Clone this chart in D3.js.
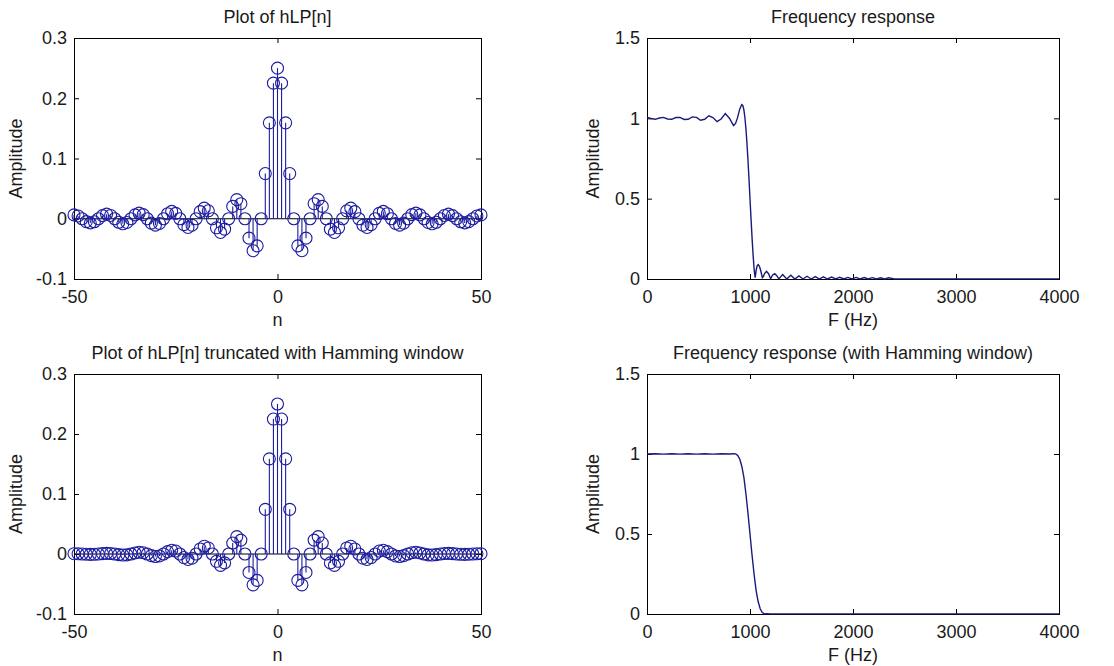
<!DOCTYPE html>
<html>
<head>
<meta charset="utf-8">
<script src="https://cdn.jsdelivr.net/npm/d3@7"></script>
<style>
  body { margin: 0; background: #fff; }
  text { font-family: "Liberation Sans", Arial, sans-serif; fill: #1a1a1a; }
</style>
</head>
<body>
<div id="graphic"></div>
<script>
// sample index n = -50 ... 50
const nValues = d3.range(-50, 51);

// ideal low pass impulse response, truncated (rectangular)
const hLP = [
  0.0064, 0.0046, 0, -0.0048, -0.0069, -0.0050, 0, 0.0052, 0.0076, 0.0055,
  0, -0.0058, -0.0084, -0.0061, 0, 0.0064, 0.0094, 0.0068, 0, -0.0073,
  -0.0106, -0.0078, 0, 0.0083, 0.0122, 0.0090, 0, -0.0098, -0.0145, -0.0107,
  0, 0.0118, 0.0177, 0.0132, 0, -0.0150, -0.0227, -0.0173, 0, 0.0205,
  0.0318, 0.0250, 0, -0.0322, -0.0531, -0.0450, 0, 0.0750, 0.1592, 0.2251,
  0.25,
  0.2251, 0.1592, 0.0750, 0, -0.0450, -0.0531, -0.0322, 0, 0.0250, 0.0318,
  0.0205, 0, -0.0173, -0.0227, -0.0150, 0, 0.0132, 0.0177, 0.0118, 0,
  -0.0107, -0.0145, -0.0098, 0, 0.0090, 0.0122, 0.0083, 0, -0.0078, -0.0106,
  -0.0073, 0, 0.0068, 0.0094, 0.0064, 0, -0.0061, -0.0084, -0.0058, 0,
  0.0055, 0.0076, 0.0052, 0, -0.0050, -0.0069, -0.0048, 0, 0.0046, 0.0064
];

// same response with the Hamming window applied
const hLPHamming = [
  0.0005, 0.0004, 0, -0.0004, -0.0007, -0.0005, 0, 0.0006, 0.0010, 0.0008,
  0, -0.0011, -0.0017, -0.0014, 0, 0.0017, 0.0028, 0.0022, 0, -0.0027,
  -0.0042, -0.0033, 0, 0.0040, 0.0062, 0.0049, 0, -0.0059, -0.0091, -0.0070,
  0, 0.0084, 0.0130, 0.0101, 0, -0.0122, -0.0189, -0.0148, 0, 0.0183,
  0.0290, 0.0232, 0, -0.0308, -0.0514, -0.0440, 0, 0.0744, 0.1586, 0.2249,
  0.25,
  0.2249, 0.1586, 0.0744, 0, -0.0440, -0.0514, -0.0308, 0, 0.0232, 0.0290,
  0.0183, 0, -0.0148, -0.0189, -0.0122, 0, 0.0101, 0.0130, 0.0084, 0,
  -0.0070, -0.0091, -0.0059, 0, 0.0049, 0.0062, 0.0040, 0, -0.0033, -0.0042,
  -0.0027, 0, 0.0022, 0.0028, 0.0017, 0, -0.0014, -0.0017, -0.0011, 0,
  0.0008, 0.0010, 0.0006, 0, -0.0005, -0.0007, -0.0004, 0, 0.0004, 0.0005
];

// |H(F)| for the rectangular truncation
const freqRect = [
  0, 40, 80, 120, 160, 200, 240, 280, 320, 360, 400, 440, 480, 520, 560, 600,
  640, 680, 720, 760, 800, 840, 860, 880, 900, 920,
  930, 940, 950, 960, 970, 980, 990, 1000, 1010, 1020, 1030, 1040, 1050,
  1060, 1070, 1080, 1090, 1100, 1110, 1120, 1130, 1140,
  1160, 1180, 1200, 1220, 1240, 1260, 1280,
  1317, 1357, 1396, 1436, 1475, 1515, 1554, 1594, 1634, 1673, 1713, 1752,
  1792, 1832, 1871, 1911, 1950, 1990, 2030, 2069, 2109, 2148, 2188, 2228,
  2267, 2307, 2346,
  2400, 3000, 3500, 4000
];
const ampRect = [
  1.006, 0.999, 0.994, 1.002, 1.006, 0.996, 0.994, 1.005, 1.006, 0.993, 0.994,
  1.009, 1.006, 0.988, 0.994, 1.016, 1.005, 0.979, 0.996, 1.030, 1.001, 0.955,
  0.968, 1.006, 1.057, 1.086,
  1.081, 1.055, 1.008, 0.940, 0.850, 0.744, 0.625, 0.500, 0.375, 0.256, 0.150,
  0.060, 0.009, 0.056, 0.083, 0.090, 0.081, 0.062, 0.036, 0.009, 0.015, 0.032,
  0.048, 0.033, 0.002, 0.025, 0.033, 0.021, 0.001,
  0.028, 0, 0.023, 0, 0.019, 0, 0.017, 0, 0.015, 0, 0.013, 0,
  0.012, 0, 0.011, 0, 0.010, 0, 0.0097, 0, 0.009, 0, 0.0086, 0,
  0.008, 0, 0.0078,
  0.001, 0.001, 0.001, 0.001
];

// |H(F)| with the Hamming window
const freqHam = [
  0, 80, 160, 240, 320, 400, 480, 560, 640, 720, 800, 842, 861, 881, 901, 921,
  941, 960, 980, 1000, 1020, 1040, 1059, 1079, 1099, 1119, 1139, 1158, 1200,
  1600, 2000, 2400, 2800, 3200, 3600, 4000
];
const ampHam = [
  1.000, 1.002, 0.999, 1.002, 0.999, 1.002, 0.999, 1.002, 0.999, 1.002, 1.000,
  1.002, 1.001, 0.991, 0.967, 0.922, 0.852, 0.753, 0.633, 0.500, 0.367, 0.247,
  0.148, 0.078, 0.033, 0.009, 0.001, 0.002, 0.001, 0.001, 0.001, 0.001, 0.001,
  0.001, 0.001, 0.001
];

const stemTicksX = [-50, 0, 50];
const stemTicksY = [-0.1, 0, 0.1, 0.2, 0.3];
const freqTicksX = [0, 1000, 2000, 3000, 4000];
const freqTicksY = [0, 0.5, 1, 1.5];

const stemColor = "#1c1ca0";
const lineColor = "#1a1a7c";
const fontSize = 18;

const svg = d3.select("#graphic")
    .append("svg")
    .attr("width", 1114)
    .attr("height", 666);

// one MATLAB-like axes box with inward ticks on all four sides
function makeAxes(box, xDomain, yDomain, xTicks, yTicks, title, xLabel, yLabelOffset) {
    const g = svg.append("g")
        .attr("transform", `translate(${box.left}, ${box.top})`);

    const x = d3.scaleLinear().domain(xDomain).range([0, box.width]);
    const y = d3.scaleLinear().domain(yDomain).range([box.height, 0]);

    const plain = d => String(d);

    g.append("g")
        .attr("transform", `translate(0, ${box.height})`)
        .call(d3.axisBottom(x).tickValues(xTicks).tickSize(-5).tickPadding(11).tickFormat(plain))
        .call(a => a.select(".domain").remove())
        .attr("color", "#000")
        .attr("font-size", fontSize)
        .attr("font-family", "Liberation Sans, Arial, sans-serif");

    g.append("g")
        .call(d3.axisLeft(y).tickValues(yTicks).tickSize(-5).tickPadding(7).tickFormat(plain))
        .call(a => a.select(".domain").remove())
        .attr("color", "#000")
        .attr("font-size", fontSize)
        .attr("font-family", "Liberation Sans, Arial, sans-serif");

    g.append("g")
        .call(d3.axisTop(x).tickValues(xTicks).tickSize(-5).tickFormat(""))
        .call(a => a.select(".domain").remove())
        .attr("color", "#000");

    g.append("g")
        .attr("transform", `translate(${box.width}, 0)`)
        .call(d3.axisRight(y).tickValues(yTicks).tickSize(-5).tickFormat(""))
        .call(a => a.select(".domain").remove())
        .attr("color", "#000");

    g.append("rect")
        .attr("x", 0.5)
        .attr("y", 0.5)
        .attr("width", box.width)
        .attr("height", box.height)
        .attr("fill", "none")
        .attr("stroke", "#000")
        .attr("stroke-width", 1);

    g.append("text")
        .attr("x", box.width / 2)
        .attr("y", -15.5)
        .attr("text-anchor", "middle")
        .attr("font-size", fontSize)
        .text(title);

    g.append("text")
        .attr("x", box.width / 2)
        .attr("y", box.height + 47)
        .attr("text-anchor", "middle")
        .attr("font-size", fontSize)
        .text(xLabel);

    g.append("text")
        .attr("transform", `translate(${yLabelOffset}, ${box.height / 2}) rotate(-90)`)
        .attr("text-anchor", "middle")
        .attr("font-size", fontSize)
        .text("Amplitude");

    return {g, x, y};
}

function drawStem(box, values, title) {
    const {g, x, y} = makeAxes(box, [-50, 50], [-0.1, 0.3], stemTicksX, stemTicksY, title, "n", -52.5);
    const data = d3.zip(nValues, values);

    // baseline at zero
    g.append("line")
        .attr("x1", 0)
        .attr("x2", box.width)
        .attr("y1", y(0))
        .attr("y2", y(0))
        .style("stroke", "#000")
        .style("stroke-width", 1);

    g.append("g")
        .selectAll("line")
        .data(data.filter(d => d[1] !== 0))
        .enter().append("line")
            .attr("x1", d => x(d[0]))
            .attr("x2", d => x(d[0]))
            .attr("y1", y(0))
            .attr("y2", d => y(d[1]))
            .style("stroke", stemColor)
            .style("stroke-width", 1.1);

    g.append("g")
        .selectAll("circle")
        .data(data)
        .enter().append("circle")
            .attr("cx", d => x(d[0]))
            .attr("cy", d => y(d[1]))
            .attr("r", 6)
            .attr("fill", "none")
            .attr("stroke", stemColor)
            .attr("stroke-width", 1.1);
}

function drawResponse(box, freq, amp, title) {
    const {g, x, y} = makeAxes(box, [0, 4000], [0, 1.5], freqTicksX, freqTicksY, title, "F (Hz)", -48);

    g.append("path")
        .datum(d3.zip(freq, amp))
        .attr("fill", "none")
        .attr("stroke", lineColor)
        .attr("stroke-width", 1.4)
        .attr("d", d3.line()
            .x(d => x(d[0]))
            .y(d => y(d[1]))
        );
}

drawStem({left: 74, top: 38, width: 407, height: 241}, hLP, "Plot of hLP[n]");
drawResponse({left: 647, top: 38, width: 412, height: 241}, freqRect, ampRect, "Frequency response");
drawStem({left: 74, top: 374, width: 407, height: 240}, hLPHamming, "Plot of hLP[n] truncated with Hamming window");
drawResponse({left: 647, top: 374, width: 412, height: 240}, freqHam, ampHam, "Frequency response (with Hamming window)");
</script>
</body>
</html>
